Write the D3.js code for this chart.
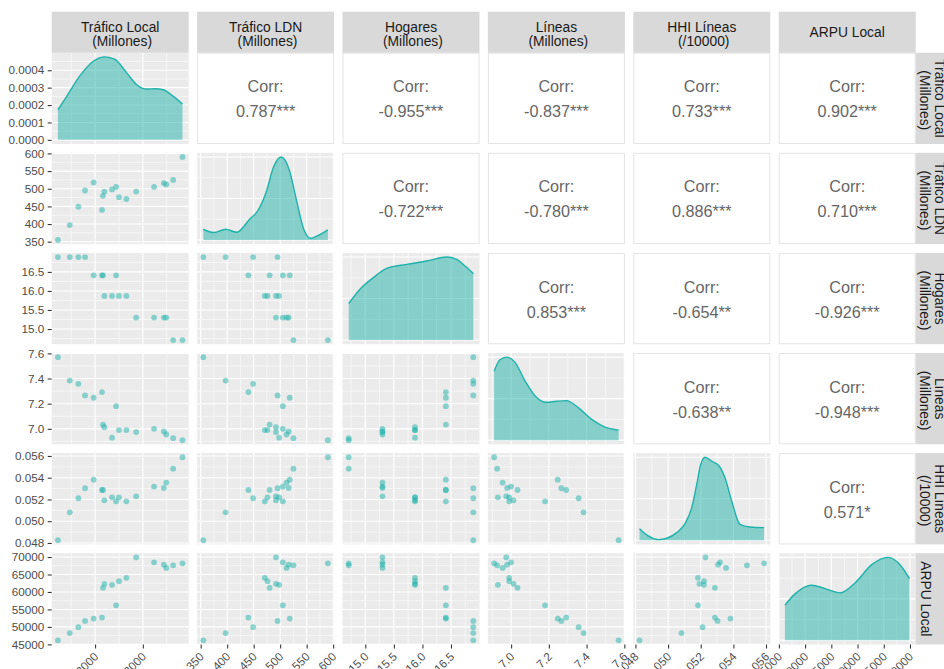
<!DOCTYPE html>
<html>
<head>
<meta charset="utf-8">
<script src="https://cdn.jsdelivr.net/npm/d3@7"></script>
<style>
  body { margin: 0; background: #fff; }
  svg { display: block; font-family: "Liberation Sans", Arial, sans-serif; }
</style>
</head>
<body>
<div id="chart"></div>
<script>
const traficoLocal = [1222, 1470, 1650, 1790, 1970, 2145, 2165, 2195, 2355, 2440, 2500, 2655, 2860, 3235, 3440, 3490, 3635, 3830];
const traficoLDN = [355, 397, 449, 495, 518, 440, 480, 492, 498, 505, 476, 471, 492, 505, 516, 512, 525, 590];
const hogares = [16.89, 16.89, 16.89, 16.89, 16.41, 16.41, 16.41, 15.87, 15.87, 16.41, 15.87, 15.87, 15.30, 15.30, 15.30, 15.30, 14.71, 14.71];
const lineas = [7.57, 7.384, 7.358, 7.266, 7.247, 7.292, 7.034, 7.013, 6.93, 7.18, 6.99, 6.99, 6.974, 7.00, 6.979, 6.955, 6.926, 6.91];
const hhiLineas = [0.04825, 0.05082, 0.05211, 0.05303, 0.05382, 0.05287, 0.05287, 0.05192, 0.0522, 0.05183, 0.0522, 0.05183, 0.05229, 0.05318, 0.05306, 0.05355, 0.05483, 0.05588];
const arpuLocal = [46150, 48220, 49924, 51723, 52386, 52670, 61193, 62330, 62045, 56174, 63087, 64034, 69905, 68485, 67822, 66875, 67633, 68201];

// strip labels (top and right)
const stripLabels = [
  ["Tráfico Local", " (Millones)"],
  ["Tráfico LDN", " (Millones)"],
  ["Hogares", " (Millones)"],
  ["Líneas", " (Millones)"],
  ["HHI Líneas", " (/10000)"],
  ["ARPU Local"]
];

// tick labels per variable
const ticksTraficoLocal = [2000, 3000];
const ticksTraficoLDN = [350, 400, 450, 500, 550, 600];
const ticksHogares = [15.0, 15.5, 16.0, 16.5];
const ticksLineas = [7.0, 7.2, 7.4, 7.6];
const ticksHHI = [0.048, 0.050, 0.052, 0.054, 0.056];
const ticksARPU = [45000, 50000, 55000, 60000, 65000, 70000];
const ticksDensity = [0, 0.0001, 0.0002, 0.0003, 0.0004];

// correlation labels, upper triangle, row by row
const corrLabels = [
  "0.787***", "-0.955***", "-0.837***", "0.733***", "0.902***",
  "-0.722***", "-0.780***", "0.886***", "0.710***",
  "0.853***", "-0.654**", "-0.926***",
  "-0.638**", "-0.948***",
  "0.571*"
];

// density curves on the diagonal (x in data units; first in density units, others relative to peak)
const densXTraficoLocal = [1222, 1406, 1684, 1963, 2208, 2417, 2662, 2872, 3081, 3255, 3429, 3638, 3830];
const densYTraficoLocal = [0.000173, 0.00025, 0.000369, 0.000452, 0.000477, 0.000462, 0.000385, 0.000317, 0.000292, 0.000294, 0.000288, 0.00025, 0.000206];
const densXTraficoLDN = [355, 375, 397, 418, 444, 457, 473, 488, 502, 517, 532, 545, 558, 570, 590];
const densYTraficoLDN = [0.129, 0.089, 0.129, 0.093, 0.262, 0.343, 0.565, 0.887, 1.0, 0.847, 0.444, 0.121, 0.02, 0.048, 0.121];
const densXHogares = [14.71, 14.907, 15.14, 15.374, 15.725, 16.075, 16.425, 16.6, 16.746, 16.89];
const densYHogares = [0.44, 0.612, 0.752, 0.864, 0.912, 0.952, 1.0, 0.972, 0.892, 0.8];
const densXLineas = [6.91, 6.941, 6.976, 7.02, 7.073, 7.126, 7.187, 7.24, 7.293, 7.354, 7.425, 7.495, 7.57];
const densYLineas = [0.831, 0.968, 1.0, 0.94, 0.718, 0.536, 0.456, 0.468, 0.476, 0.395, 0.254, 0.161, 0.121];
const densXHHI = [0.04825, 0.048788, 0.0494, 0.049915, 0.050527, 0.051036, 0.051446, 0.051753, 0.051998, 0.052261, 0.052671, 0.053137, 0.053486, 0.053897, 0.054405, 0.055018, 0.05588];
const densYHHI = [0.14, 0.052, 0.008, 0.024, 0.092, 0.2, 0.392, 0.672, 0.912, 1.0, 0.952, 0.892, 0.752, 0.472, 0.192, 0.16, 0.152];
const densXARPU = [46150, 48071, 51256, 53793, 56654, 59515, 62700, 65866, 68098, 69905];
const densYARPU = [0.424, 0.56, 0.664, 0.624, 0.572, 0.692, 0.912, 1.0, 0.912, 0.744];

// --- Constants ---
const WIDTH = 944;
const HEIGHT = 669;
const LEFT = 51.7;
const TOP = 52.7;
const PANEL_W = 137;
const PANEL_H = 91.3;
const STEP_X = 145.4;
const STEP_Y = 100.1;
const STRIP = 41;
const TEAL = "#20B2AA";
const FONT_AXIS = 11.7;
const FONT_STRIP = 13.8;
const LINE_GAP = 14.5;

const variables = [traficoLocal, traficoLDN, hogares, lineas, hhiLineas, arpuLocal];
const varTicks = [ticksTraficoLocal, ticksTraficoLDN, ticksHogares, ticksLineas, ticksHHI, ticksARPU];
const varFormats = [d3.format("d"), d3.format("d"), d3.format(".1f"), d3.format(".1f"), d3.format(".3f"), d3.format("d")];
const densX = [densXTraficoLocal, densXTraficoLDN, densXHogares, densXLineas, densXHHI, densXARPU];
const densY = [densYTraficoLocal, densYTraficoLDN, densYHogares, densYLineas, densYHHI, densYARPU];
const N = variables.length;

// ggplot-style 5% expansion
function expand(ext) {
  const r = ext[1] - ext[0];
  return [ext[0] - 0.05 * r, ext[1] + 0.05 * r];
}
function inDomain(v, dom) {
  return v >= dom[0] - 1e-9 && v <= dom[1] + 1e-9;
}
function minorTicks(major, dom) {
  const s = major.length > 1 ? major[1] - major[0] : 0;
  const out = [];
  if (!s) return out;
  for (let k = -1; k < major.length; k++) {
    const v = major[0] + (k + 0.5) * s;
    if (inDomain(v, dom)) out.push(v);
  }
  return out;
}

const xScales = variables.map(v => d3.scaleLinear().domain(expand(d3.extent(v))).range([0, PANEL_W]));
const yScales = variables.map(v => d3.scaleLinear().domain(expand(d3.extent(v))).range([PANEL_H, 0]));
const densScales = densY.map(d => {
  const m = d3.max(d);
  return d3.scaleLinear().domain([-0.05 * m, 1.05 * m]).range([PANEL_H, 0]);
});
const densTicks = densY.map((d, i) => i === 0 ? ticksDensity : [0, 0.5, 1]);

// --- Drawing ---
const svg = d3.select("#chart").append("svg")
  .attr("width", WIDTH)
  .attr("height", HEIGHT)
  .attr("viewBox", `0 0 ${WIDTH} ${HEIGHT}`);

svg.append("rect").attr("width", WIDTH).attr("height", HEIGHT).attr("fill", "#fff");

function drawGrid(g, xs, xt, ys, yt) {
  const xMin = minorTicks(xt, xs.domain());
  const yMin = minorTicks(yt, ys.domain());
  g.selectAll(".vminor").data(xMin).join("line")
    .attr("x1", d => xs(d)).attr("x2", d => xs(d)).attr("y1", 0).attr("y2", PANEL_H)
    .attr("stroke", "#fff").attr("stroke-width", 0.55);
  g.selectAll(".hminor").data(yMin).join("line")
    .attr("y1", d => ys(d)).attr("y2", d => ys(d)).attr("x1", 0).attr("x2", PANEL_W)
    .attr("stroke", "#fff").attr("stroke-width", 0.55);
  g.selectAll(".vmajor").data(xt.filter(v => inDomain(v, xs.domain()))).join("line")
    .attr("x1", d => xs(d)).attr("x2", d => xs(d)).attr("y1", 0).attr("y2", PANEL_H)
    .attr("stroke", "#fff").attr("stroke-width", 1.1);
  g.selectAll(".hmajor").data(yt.filter(v => inDomain(v, ys.domain()))).join("line")
    .attr("y1", d => ys(d)).attr("y2", d => ys(d)).attr("x1", 0).attr("x2", PANEL_W)
    .attr("stroke", "#fff").attr("stroke-width", 1.1);
}

let corrIndex = 0;
for (let i = 0; i < N; i++) {
  for (let j = 0; j < N; j++) {
    const g = svg.append("g")
      .attr("transform", `translate(${LEFT + j * STEP_X},${TOP + i * STEP_Y})`);
    if (i < j) {
      // correlation panel
      g.append("rect").attr("x", 0.5).attr("y", 0.5)
        .attr("width", PANEL_W - 1).attr("height", PANEL_H - 1)
        .attr("fill", "#fff").attr("stroke", "#E4E4E4").attr("stroke-width", 1);
      const lines = ["Corr:", corrLabels[corrIndex++]];
      g.selectAll(".corr").data(lines).join("text")
        .attr("x", PANEL_W / 2)
        .attr("y", (d, k) => PANEL_H / 2 + (k === 0 ? -12 : 13))
        .attr("text-anchor", "middle")
        .attr("dominant-baseline", "central")
        .attr("font-size", 16.2)
        .attr("fill", "#666666")
        .text(d => d);
      continue;
    }
    g.append("rect").attr("width", PANEL_W).attr("height", PANEL_H).attr("fill", "#EBEBEB");
    const xs = xScales[j];
    if (i === j) {
      const ys = densScales[i];
      drawGrid(g, xs, varTicks[j], ys, densTicks[i]);
      const pts = densX[i].map((x, k) => [x, densY[i][k]]);
      g.append("path")
        .datum(pts)
        .attr("fill", TEAL).attr("fill-opacity", 0.5)
        .attr("d", d3.area().curve(d3.curveMonotoneX)
          .x(d => xs(d[0])).y0(ys(0)).y1(d => ys(d[1])));
      g.append("path")
        .datum(pts)
        .attr("fill", "none").attr("stroke", TEAL).attr("stroke-width", 1.4)
        .attr("d", d3.line().curve(d3.curveMonotoneX)
          .x(d => xs(d[0])).y(d => ys(d[1])));
    } else {
      const ys = yScales[i];
      drawGrid(g, xs, varTicks[j], ys, varTicks[i]);
      g.selectAll("circle").data(variables[j].map((x, k) => [x, variables[i][k]])).join("circle")
        .attr("cx", d => xs(d[0])).attr("cy", d => ys(d[1])).attr("r", 2.9)
        .attr("fill", TEAL).attr("fill-opacity", 0.5);
    }
  }
}

// --- Strips ---
for (let j = 0; j < N; j++) {
  const x0 = LEFT + j * STEP_X;
  svg.append("rect").attr("x", x0).attr("y", TOP - STRIP).attr("width", PANEL_W).attr("height", STRIP)
    .attr("fill", "#D9D9D9");
  const lab = stripLabels[j];
  const base = lab.length === 2 ? [TOP - 21, TOP - 21 + LINE_GAP] : [TOP - 15.5];
  lab.forEach((t, k) => {
    svg.append("text")
      .attr("x", x0 + PANEL_W / 2).attr("y", base[k])
      .attr("text-anchor", "middle").attr("font-size", FONT_STRIP).attr("fill", "#1A1A1A")
      .style("white-space", "pre")
      .text(t);
  });
}
const stripX = LEFT + (N - 1) * STEP_X + PANEL_W;
for (let i = 0; i < N; i++) {
  const y0 = TOP + i * STEP_Y;
  svg.append("rect").attr("x", stripX).attr("y", y0).attr("width", STRIP).attr("height", PANEL_H)
    .attr("fill", "#D9D9D9");
  const lab = stripLabels[i];
  const base = lab.length === 2 ? [stripX + 4.5 + LINE_GAP, stripX + 4.5] : [stripX + 5];
  lab.forEach((t, k) => {
    svg.append("text")
      .attr("transform", `translate(${base[k]},${y0 + PANEL_H / 2}) rotate(90)`)
      .attr("text-anchor", "middle").attr("font-size", FONT_STRIP).attr("fill", "#1A1A1A")
      .style("white-space", "pre")
      .text(t);
  });
}

// --- Axes ---
function styleAxis(a) {
  a.select(".domain").remove();
  a.selectAll(".tick line").attr("stroke", "#333333").attr("stroke-width", 1.07);
  a.selectAll(".tick text").attr("fill", "#4D4D4D").attr("font-size", FONT_AXIS)
    .attr("font-family", "'Liberation Sans', Arial, sans-serif");
}
for (let i = 0; i < N; i++) {
  const ys = i === 0 ? densScales[0] : yScales[i];
  const vals = (i === 0 ? ticksDensity : varTicks[i]).filter(v => inDomain(v, ys.domain()));
  const fmt = i === 0 ? d3.format(".4f") : varFormats[i];
  const a = svg.append("g")
    .attr("transform", `translate(${LEFT},${TOP + i * STEP_Y})`)
    .call(d3.axisLeft(ys).tickValues(vals).tickFormat(fmt).tickSize(4).tickPadding(3.5));
  styleAxis(a);
}
for (let j = 0; j < N; j++) {
  const xs = xScales[j];
  const vals = varTicks[j].filter(v => inDomain(v, xs.domain()));
  const a = svg.append("g")
    .attr("transform", `translate(${LEFT + j * STEP_X},${TOP + (N - 1) * STEP_Y + PANEL_H})`)
    .call(d3.axisBottom(xs).tickValues(vals).tickFormat(varFormats[j]).tickSize(4).tickPadding(3));
  styleAxis(a);
  a.selectAll(".tick text")
    .attr("text-anchor", "end")
    .attr("x", 0)
    .attr("y", 0)
    .attr("dy", null)
    .attr("transform", "translate(3.5,13) rotate(-45)");
}
</script>
</body>
</html>
